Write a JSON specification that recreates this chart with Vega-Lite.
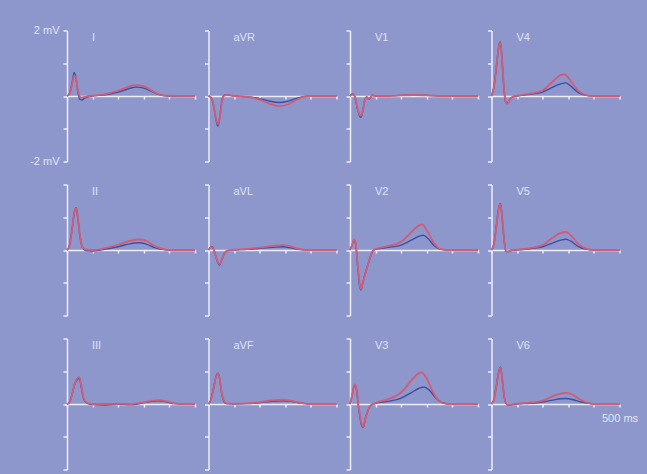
{
"$schema":"https://vega.github.io/schema/vega-lite/v6.json",
"background":"#8e97cb",
"autosize":"pad",
"padding":{"left":29,"top":24.5,"right":9.5,"bottom":4.5},
"data":{"values":[
{"l":"I","s":"b","t":0,"v":0},{"l":"I","s":"b","t":10,"v":0.08},{"l":"I","s":"b","t":20,"v":0.4},{"l":"I","s":"b","t":28,"v":0.72},{"l":"I","s":"b","t":35,"v":0.55},{"l":"I","s":"b","t":42,"v":0.15},{"l":"I","s":"b","t":50,"v":-0.1},{"l":"I","s":"b","t":58,"v":-0.12},{"l":"I","s":"b","t":70,"v":-0.06},{"l":"I","s":"b","t":85,"v":-0.02},{"l":"I","s":"b","t":100,"v":0},{"l":"I","s":"b","t":150,"v":0.04},{"l":"I","s":"b","t":200,"v":0.12},{"l":"I","s":"b","t":240,"v":0.22},{"l":"I","s":"b","t":270,"v":0.27},{"l":"I","s":"b","t":300,"v":0.24},{"l":"I","s":"b","t":330,"v":0.14},{"l":"I","s":"b","t":360,"v":0.04},{"l":"I","s":"b","t":390,"v":0},{"l":"I","s":"b","t":500,"v":0},
{"l":"I","s":"r","t":0,"v":0},{"l":"I","s":"r","t":10,"v":0.06},{"l":"I","s":"r","t":20,"v":0.35},{"l":"I","s":"r","t":28,"v":0.62},{"l":"I","s":"r","t":35,"v":0.55},{"l":"I","s":"r","t":42,"v":0.2},{"l":"I","s":"r","t":50,"v":-0.02},{"l":"I","s":"r","t":58,"v":-0.05},{"l":"I","s":"r","t":70,"v":-0.03},{"l":"I","s":"r","t":85,"v":0},{"l":"I","s":"r","t":100,"v":0.01},{"l":"I","s":"r","t":150,"v":0.06},{"l":"I","s":"r","t":200,"v":0.16},{"l":"I","s":"r","t":240,"v":0.28},{"l":"I","s":"r","t":270,"v":0.33},{"l":"I","s":"r","t":300,"v":0.3},{"l":"I","s":"r","t":330,"v":0.17},{"l":"I","s":"r","t":360,"v":0.05},{"l":"I","s":"r","t":390,"v":0.01},{"l":"I","s":"r","t":500,"v":0},
{"l":"aVR","s":"b","t":0,"v":0},{"l":"aVR","s":"b","t":10,"v":-0.05},{"l":"aVR","s":"b","t":20,"v":-0.3},{"l":"aVR","s":"b","t":30,"v":-0.75},{"l":"aVR","s":"b","t":37,"v":-0.92},{"l":"aVR","s":"b","t":45,"v":-0.6},{"l":"aVR","s":"b","t":52,"v":-0.15},{"l":"aVR","s":"b","t":60,"v":0.02},{"l":"aVR","s":"b","t":70,"v":0.04},{"l":"aVR","s":"b","t":85,"v":0.02},{"l":"aVR","s":"b","t":100,"v":0},{"l":"aVR","s":"b","t":150,"v":-0.02},{"l":"aVR","s":"b","t":200,"v":-0.08},{"l":"aVR","s":"b","t":240,"v":-0.16},{"l":"aVR","s":"b","t":275,"v":-0.2},{"l":"aVR","s":"b","t":310,"v":-0.16},{"l":"aVR","s":"b","t":340,"v":-0.08},{"l":"aVR","s":"b","t":370,"v":-0.02},{"l":"aVR","s":"b","t":400,"v":0},{"l":"aVR","s":"b","t":500,"v":0},
{"l":"aVR","s":"r","t":0,"v":0},{"l":"aVR","s":"r","t":10,"v":-0.04},{"l":"aVR","s":"r","t":20,"v":-0.28},{"l":"aVR","s":"r","t":30,"v":-0.7},{"l":"aVR","s":"r","t":37,"v":-0.86},{"l":"aVR","s":"r","t":45,"v":-0.62},{"l":"aVR","s":"r","t":52,"v":-0.2},{"l":"aVR","s":"r","t":60,"v":0},{"l":"aVR","s":"r","t":70,"v":0.03},{"l":"aVR","s":"r","t":85,"v":0.02},{"l":"aVR","s":"r","t":100,"v":0},{"l":"aVR","s":"r","t":150,"v":-0.03},{"l":"aVR","s":"r","t":200,"v":-0.11},{"l":"aVR","s":"r","t":240,"v":-0.24},{"l":"aVR","s":"r","t":275,"v":-0.31},{"l":"aVR","s":"r","t":310,"v":-0.26},{"l":"aVR","s":"r","t":340,"v":-0.13},{"l":"aVR","s":"r","t":370,"v":-0.03},{"l":"aVR","s":"r","t":400,"v":0},{"l":"aVR","s":"r","t":500,"v":0},
{"l":"V1","s":"b","t":0,"v":0},{"l":"V1","s":"b","t":10,"v":0.06},{"l":"V1","s":"b","t":18,"v":0},{"l":"V1","s":"b","t":28,"v":-0.35},{"l":"V1","s":"b","t":38,"v":-0.62},{"l":"V1","s":"b","t":43,"v":-0.65},{"l":"V1","s":"b","t":50,"v":-0.45},{"l":"V1","s":"b","t":58,"v":-0.12},{"l":"V1","s":"b","t":65,"v":-0.04},{"l":"V1","s":"b","t":72,"v":-0.09},{"l":"V1","s":"b","t":80,"v":-0.06},{"l":"V1","s":"b","t":88,"v":0.03},{"l":"V1","s":"b","t":95,"v":0},{"l":"V1","s":"b","t":150,"v":0},{"l":"V1","s":"b","t":200,"v":0.02},{"l":"V1","s":"b","t":250,"v":0.03},{"l":"V1","s":"b","t":300,"v":0.02},{"l":"V1","s":"b","t":350,"v":0},{"l":"V1","s":"b","t":500,"v":0},
{"l":"V1","s":"r","t":0,"v":0},{"l":"V1","s":"r","t":10,"v":0.05},{"l":"V1","s":"r","t":18,"v":0},{"l":"V1","s":"r","t":28,"v":-0.32},{"l":"V1","s":"r","t":38,"v":-0.58},{"l":"V1","s":"r","t":43,"v":-0.6},{"l":"V1","s":"r","t":50,"v":-0.45},{"l":"V1","s":"r","t":58,"v":-0.14},{"l":"V1","s":"r","t":65,"v":-0.03},{"l":"V1","s":"r","t":72,"v":-0.08},{"l":"V1","s":"r","t":80,"v":-0.05},{"l":"V1","s":"r","t":88,"v":0.04},{"l":"V1","s":"r","t":95,"v":0},{"l":"V1","s":"r","t":150,"v":0},{"l":"V1","s":"r","t":200,"v":0.02},{"l":"V1","s":"r","t":250,"v":0.03},{"l":"V1","s":"r","t":300,"v":0.02},{"l":"V1","s":"r","t":350,"v":0},{"l":"V1","s":"r","t":500,"v":0},
{"l":"V4","s":"b","t":0,"v":0},{"l":"V4","s":"b","t":10,"v":0.3},{"l":"V4","s":"b","t":20,"v":0.95},{"l":"V4","s":"b","t":30,"v":1.58},{"l":"V4","s":"b","t":35,"v":1.65},{"l":"V4","s":"b","t":42,"v":1.0},{"l":"V4","s":"b","t":48,"v":0.3},{"l":"V4","s":"b","t":55,"v":-0.18},{"l":"V4","s":"b","t":62,"v":-0.22},{"l":"V4","s":"b","t":72,"v":-0.1},{"l":"V4","s":"b","t":85,"v":-0.02},{"l":"V4","s":"b","t":100,"v":0},{"l":"V4","s":"b","t":150,"v":0.05},{"l":"V4","s":"b","t":200,"v":0.12},{"l":"V4","s":"b","t":240,"v":0.27},{"l":"V4","s":"b","t":270,"v":0.37},{"l":"V4","s":"b","t":290,"v":0.4},{"l":"V4","s":"b","t":310,"v":0.3},{"l":"V4","s":"b","t":340,"v":0.1},{"l":"V4","s":"b","t":370,"v":0.02},{"l":"V4","s":"b","t":400,"v":0},{"l":"V4","s":"b","t":500,"v":0},
{"l":"V4","s":"r","t":0,"v":0},{"l":"V4","s":"r","t":10,"v":0.3},{"l":"V4","s":"r","t":20,"v":0.95},{"l":"V4","s":"r","t":30,"v":1.55},{"l":"V4","s":"r","t":35,"v":1.62},{"l":"V4","s":"r","t":42,"v":1.02},{"l":"V4","s":"r","t":48,"v":0.32},{"l":"V4","s":"r","t":55,"v":-0.18},{"l":"V4","s":"r","t":62,"v":-0.24},{"l":"V4","s":"r","t":72,"v":-0.1},{"l":"V4","s":"r","t":85,"v":-0.01},{"l":"V4","s":"r","t":100,"v":0.01},{"l":"V4","s":"r","t":150,"v":0.07},{"l":"V4","s":"r","t":200,"v":0.17},{"l":"V4","s":"r","t":240,"v":0.45},{"l":"V4","s":"r","t":270,"v":0.64},{"l":"V4","s":"r","t":285,"v":0.66},{"l":"V4","s":"r","t":310,"v":0.45},{"l":"V4","s":"r","t":340,"v":0.15},{"l":"V4","s":"r","t":370,"v":0.03},{"l":"V4","s":"r","t":400,"v":0},{"l":"V4","s":"r","t":500,"v":0},
{"l":"II","s":"b","t":0,"v":0},{"l":"II","s":"b","t":10,"v":0.15},{"l":"II","s":"b","t":20,"v":0.65},{"l":"II","s":"b","t":30,"v":1.2},{"l":"II","s":"b","t":36,"v":1.29},{"l":"II","s":"b","t":42,"v":1.0},{"l":"II","s":"b","t":50,"v":0.45},{"l":"II","s":"b","t":58,"v":0.12},{"l":"II","s":"b","t":65,"v":0.02},{"l":"II","s":"b","t":75,"v":-0.02},{"l":"II","s":"b","t":100,"v":-0.03},{"l":"II","s":"b","t":130,"v":0},{"l":"II","s":"b","t":160,"v":0.04},{"l":"II","s":"b","t":200,"v":0.1},{"l":"II","s":"b","t":240,"v":0.18},{"l":"II","s":"b","t":280,"v":0.22},{"l":"II","s":"b","t":310,"v":0.18},{"l":"II","s":"b","t":340,"v":0.08},{"l":"II","s":"b","t":370,"v":0.02},{"l":"II","s":"b","t":400,"v":0},{"l":"II","s":"b","t":500,"v":0},
{"l":"II","s":"r","t":0,"v":0},{"l":"II","s":"r","t":10,"v":0.14},{"l":"II","s":"r","t":20,"v":0.62},{"l":"II","s":"r","t":30,"v":1.18},{"l":"II","s":"r","t":36,"v":1.27},{"l":"II","s":"r","t":42,"v":1.02},{"l":"II","s":"r","t":50,"v":0.48},{"l":"II","s":"r","t":58,"v":0.14},{"l":"II","s":"r","t":65,"v":0.04},{"l":"II","s":"r","t":75,"v":0.01},{"l":"II","s":"r","t":100,"v":0},{"l":"II","s":"r","t":130,"v":0.02},{"l":"II","s":"r","t":160,"v":0.08},{"l":"II","s":"r","t":200,"v":0.16},{"l":"II","s":"r","t":240,"v":0.27},{"l":"II","s":"r","t":280,"v":0.32},{"l":"II","s":"r","t":310,"v":0.28},{"l":"II","s":"r","t":340,"v":0.13},{"l":"II","s":"r","t":370,"v":0.04},{"l":"II","s":"r","t":400,"v":0},{"l":"II","s":"r","t":500,"v":0},
{"l":"aVL","s":"b","t":0,"v":0},{"l":"aVL","s":"b","t":8,"v":0.08},{"l":"aVL","s":"b","t":15,"v":0.1},{"l":"aVL","s":"b","t":25,"v":-0.1},{"l":"aVL","s":"b","t":35,"v":-0.36},{"l":"aVL","s":"b","t":43,"v":-0.46},{"l":"aVL","s":"b","t":52,"v":-0.3},{"l":"aVL","s":"b","t":62,"v":-0.1},{"l":"aVL","s":"b","t":75,"v":-0.02},{"l":"aVL","s":"b","t":100,"v":0},{"l":"aVL","s":"b","t":150,"v":0.02},{"l":"aVL","s":"b","t":200,"v":0.05},{"l":"aVL","s":"b","t":250,"v":0.08},{"l":"aVL","s":"b","t":290,"v":0.1},{"l":"aVL","s":"b","t":320,"v":0.07},{"l":"aVL","s":"b","t":350,"v":0.02},{"l":"aVL","s":"b","t":380,"v":0},{"l":"aVL","s":"b","t":500,"v":0},
{"l":"aVL","s":"r","t":0,"v":0},{"l":"aVL","s":"r","t":8,"v":0.07},{"l":"aVL","s":"r","t":15,"v":0.09},{"l":"aVL","s":"r","t":25,"v":-0.1},{"l":"aVL","s":"r","t":35,"v":-0.34},{"l":"aVL","s":"r","t":43,"v":-0.44},{"l":"aVL","s":"r","t":52,"v":-0.3},{"l":"aVL","s":"r","t":62,"v":-0.1},{"l":"aVL","s":"r","t":75,"v":-0.02},{"l":"aVL","s":"r","t":100,"v":0.01},{"l":"aVL","s":"r","t":150,"v":0.03},{"l":"aVL","s":"r","t":200,"v":0.07},{"l":"aVL","s":"r","t":250,"v":0.12},{"l":"aVL","s":"r","t":290,"v":0.15},{"l":"aVL","s":"r","t":320,"v":0.11},{"l":"aVL","s":"r","t":350,"v":0.04},{"l":"aVL","s":"r","t":380,"v":0},{"l":"aVL","s":"r","t":500,"v":0},
{"l":"V2","s":"b","t":0,"v":0},{"l":"V2","s":"b","t":8,"v":0.15},{"l":"V2","s":"b","t":16,"v":0.3},{"l":"V2","s":"b","t":22,"v":0.2},{"l":"V2","s":"b","t":30,"v":-0.5},{"l":"V2","s":"b","t":38,"v":-1.1},{"l":"V2","s":"b","t":43,"v":-1.22},{"l":"V2","s":"b","t":50,"v":-1.0},{"l":"V2","s":"b","t":60,"v":-0.7},{"l":"V2","s":"b","t":70,"v":-0.45},{"l":"V2","s":"b","t":80,"v":-0.2},{"l":"V2","s":"b","t":90,"v":-0.02},{"l":"V2","s":"b","t":100,"v":0.02},{"l":"V2","s":"b","t":150,"v":0.08},{"l":"V2","s":"b","t":200,"v":0.15},{"l":"V2","s":"b","t":240,"v":0.3},{"l":"V2","s":"b","t":270,"v":0.42},{"l":"V2","s":"b","t":287,"v":0.45},{"l":"V2","s":"b","t":305,"v":0.35},{"l":"V2","s":"b","t":330,"v":0.12},{"l":"V2","s":"b","t":355,"v":0.02},{"l":"V2","s":"b","t":380,"v":0},{"l":"V2","s":"b","t":500,"v":0},
{"l":"V2","s":"r","t":0,"v":0},{"l":"V2","s":"r","t":8,"v":0.15},{"l":"V2","s":"r","t":16,"v":0.32},{"l":"V2","s":"r","t":22,"v":0.22},{"l":"V2","s":"r","t":30,"v":-0.45},{"l":"V2","s":"r","t":38,"v":-1.05},{"l":"V2","s":"r","t":43,"v":-1.2},{"l":"V2","s":"r","t":50,"v":-1.0},{"l":"V2","s":"r","t":60,"v":-0.72},{"l":"V2","s":"r","t":70,"v":-0.45},{"l":"V2","s":"r","t":80,"v":-0.2},{"l":"V2","s":"r","t":90,"v":-0.02},{"l":"V2","s":"r","t":100,"v":0.03},{"l":"V2","s":"r","t":150,"v":0.12},{"l":"V2","s":"r","t":200,"v":0.25},{"l":"V2","s":"r","t":240,"v":0.55},{"l":"V2","s":"r","t":270,"v":0.75},{"l":"V2","s":"r","t":282,"v":0.78},{"l":"V2","s":"r","t":300,"v":0.6},{"l":"V2","s":"r","t":325,"v":0.25},{"l":"V2","s":"r","t":350,"v":0.04},{"l":"V2","s":"r","t":380,"v":0},{"l":"V2","s":"r","t":500,"v":0},
{"l":"V5","s":"b","t":0,"v":0},{"l":"V5","s":"b","t":10,"v":0.2},{"l":"V5","s":"b","t":20,"v":0.8},{"l":"V5","s":"b","t":30,"v":1.35},{"l":"V5","s":"b","t":35,"v":1.42},{"l":"V5","s":"b","t":42,"v":0.95},{"l":"V5","s":"b","t":50,"v":0.25},{"l":"V5","s":"b","t":57,"v":-0.05},{"l":"V5","s":"b","t":65,"v":-0.05},{"l":"V5","s":"b","t":80,"v":-0.01},{"l":"V5","s":"b","t":100,"v":0},{"l":"V5","s":"b","t":150,"v":0.04},{"l":"V5","s":"b","t":200,"v":0.1},{"l":"V5","s":"b","t":240,"v":0.22},{"l":"V5","s":"b","t":270,"v":0.3},{"l":"V5","s":"b","t":290,"v":0.33},{"l":"V5","s":"b","t":310,"v":0.27},{"l":"V5","s":"b","t":340,"v":0.1},{"l":"V5","s":"b","t":370,"v":0.02},{"l":"V5","s":"b","t":400,"v":0},{"l":"V5","s":"b","t":500,"v":0},
{"l":"V5","s":"r","t":0,"v":0},{"l":"V5","s":"r","t":10,"v":0.2},{"l":"V5","s":"r","t":20,"v":0.78},{"l":"V5","s":"r","t":30,"v":1.33},{"l":"V5","s":"r","t":35,"v":1.4},{"l":"V5","s":"r","t":42,"v":0.96},{"l":"V5","s":"r","t":50,"v":0.27},{"l":"V5","s":"r","t":57,"v":-0.03},{"l":"V5","s":"r","t":65,"v":-0.04},{"l":"V5","s":"r","t":80,"v":0},{"l":"V5","s":"r","t":100,"v":0.01},{"l":"V5","s":"r","t":150,"v":0.06},{"l":"V5","s":"r","t":200,"v":0.15},{"l":"V5","s":"r","t":240,"v":0.38},{"l":"V5","s":"r","t":270,"v":0.52},{"l":"V5","s":"r","t":290,"v":0.55},{"l":"V5","s":"r","t":310,"v":0.45},{"l":"V5","s":"r","t":340,"v":0.18},{"l":"V5","s":"r","t":370,"v":0.04},{"l":"V5","s":"r","t":400,"v":0},{"l":"V5","s":"r","t":500,"v":0},
{"l":"III","s":"b","t":0,"v":0},{"l":"III","s":"b","t":10,"v":0.05},{"l":"III","s":"b","t":20,"v":0.3},{"l":"III","s":"b","t":30,"v":0.6},{"l":"III","s":"b","t":40,"v":0.75},{"l":"III","s":"b","t":48,"v":0.78},{"l":"III","s":"b","t":55,"v":0.55},{"l":"III","s":"b","t":62,"v":0.25},{"l":"III","s":"b","t":70,"v":0.08},{"l":"III","s":"b","t":80,"v":0.02},{"l":"III","s":"b","t":100,"v":-0.02},{"l":"III","s":"b","t":150,"v":-0.03},{"l":"III","s":"b","t":200,"v":0},{"l":"III","s":"b","t":250,"v":-0.02},{"l":"III","s":"b","t":290,"v":0.02},{"l":"III","s":"b","t":330,"v":0.08},{"l":"III","s":"b","t":355,"v":0.1},{"l":"III","s":"b","t":390,"v":0.06},{"l":"III","s":"b","t":420,"v":0.01},{"l":"III","s":"b","t":450,"v":0},{"l":"III","s":"b","t":500,"v":0},
{"l":"III","s":"r","t":0,"v":0},{"l":"III","s":"r","t":10,"v":0.05},{"l":"III","s":"r","t":20,"v":0.3},{"l":"III","s":"r","t":30,"v":0.62},{"l":"III","s":"r","t":40,"v":0.78},{"l":"III","s":"r","t":48,"v":0.82},{"l":"III","s":"r","t":55,"v":0.6},{"l":"III","s":"r","t":62,"v":0.28},{"l":"III","s":"r","t":70,"v":0.1},{"l":"III","s":"r","t":80,"v":0.03},{"l":"III","s":"r","t":100,"v":0},{"l":"III","s":"r","t":150,"v":0},{"l":"III","s":"r","t":200,"v":0.01},{"l":"III","s":"r","t":250,"v":0},{"l":"III","s":"r","t":290,"v":0.04},{"l":"III","s":"r","t":330,"v":0.1},{"l":"III","s":"r","t":355,"v":0.12},{"l":"III","s":"r","t":390,"v":0.08},{"l":"III","s":"r","t":420,"v":0.02},{"l":"III","s":"r","t":450,"v":0},{"l":"III","s":"r","t":500,"v":0},
{"l":"aVF","s":"b","t":0,"v":0},{"l":"aVF","s":"b","t":10,"v":0.15},{"l":"aVF","s":"b","t":20,"v":0.5},{"l":"aVF","s":"b","t":30,"v":0.85},{"l":"aVF","s":"b","t":38,"v":0.94},{"l":"aVF","s":"b","t":45,"v":0.7},{"l":"aVF","s":"b","t":52,"v":0.3},{"l":"aVF","s":"b","t":60,"v":0.08},{"l":"aVF","s":"b","t":70,"v":0.01},{"l":"aVF","s":"b","t":100,"v":0},{"l":"aVF","s":"b","t":150,"v":0.01},{"l":"aVF","s":"b","t":200,"v":0.04},{"l":"aVF","s":"b","t":250,"v":0.08},{"l":"aVF","s":"b","t":290,"v":0.1},{"l":"aVF","s":"b","t":320,"v":0.08},{"l":"aVF","s":"b","t":350,"v":0.04},{"l":"aVF","s":"b","t":380,"v":0.01},{"l":"aVF","s":"b","t":400,"v":0},{"l":"aVF","s":"b","t":500,"v":0},
{"l":"aVF","s":"r","t":0,"v":0},{"l":"aVF","s":"r","t":10,"v":0.14},{"l":"aVF","s":"r","t":20,"v":0.48},{"l":"aVF","s":"r","t":30,"v":0.84},{"l":"aVF","s":"r","t":38,"v":0.93},{"l":"aVF","s":"r","t":45,"v":0.72},{"l":"aVF","s":"r","t":52,"v":0.32},{"l":"aVF","s":"r","t":60,"v":0.1},{"l":"aVF","s":"r","t":70,"v":0.02},{"l":"aVF","s":"r","t":100,"v":0.01},{"l":"aVF","s":"r","t":150,"v":0.02},{"l":"aVF","s":"r","t":200,"v":0.06},{"l":"aVF","s":"r","t":250,"v":0.11},{"l":"aVF","s":"r","t":290,"v":0.13},{"l":"aVF","s":"r","t":320,"v":0.1},{"l":"aVF","s":"r","t":350,"v":0.05},{"l":"aVF","s":"r","t":380,"v":0.01},{"l":"aVF","s":"r","t":400,"v":0},{"l":"aVF","s":"r","t":500,"v":0},
{"l":"V3","s":"b","t":0,"v":0},{"l":"V3","s":"b","t":8,"v":0.25},{"l":"V3","s":"b","t":18,"v":0.6},{"l":"V3","s":"b","t":25,"v":0.45},{"l":"V3","s":"b","t":35,"v":-0.2},{"l":"V3","s":"b","t":45,"v":-0.65},{"l":"V3","s":"b","t":52,"v":-0.72},{"l":"V3","s":"b","t":60,"v":-0.45},{"l":"V3","s":"b","t":70,"v":-0.2},{"l":"V3","s":"b","t":80,"v":-0.05},{"l":"V3","s":"b","t":92,"v":0},{"l":"V3","s":"b","t":100,"v":0.02},{"l":"V3","s":"b","t":150,"v":0.08},{"l":"V3","s":"b","t":200,"v":0.18},{"l":"V3","s":"b","t":240,"v":0.35},{"l":"V3","s":"b","t":270,"v":0.48},{"l":"V3","s":"b","t":290,"v":0.52},{"l":"V3","s":"b","t":310,"v":0.42},{"l":"V3","s":"b","t":335,"v":0.18},{"l":"V3","s":"b","t":360,"v":0.04},{"l":"V3","s":"b","t":390,"v":0},{"l":"V3","s":"b","t":500,"v":0},
{"l":"V3","s":"r","t":0,"v":0},{"l":"V3","s":"r","t":8,"v":0.25},{"l":"V3","s":"r","t":18,"v":0.6},{"l":"V3","s":"r","t":25,"v":0.48},{"l":"V3","s":"r","t":35,"v":-0.15},{"l":"V3","s":"r","t":45,"v":-0.6},{"l":"V3","s":"r","t":52,"v":-0.7},{"l":"V3","s":"r","t":60,"v":-0.45},{"l":"V3","s":"r","t":70,"v":-0.2},{"l":"V3","s":"r","t":80,"v":-0.05},{"l":"V3","s":"r","t":92,"v":0},{"l":"V3","s":"r","t":100,"v":0.03},{"l":"V3","s":"r","t":150,"v":0.15},{"l":"V3","s":"r","t":200,"v":0.35},{"l":"V3","s":"r","t":240,"v":0.72},{"l":"V3","s":"r","t":265,"v":0.92},{"l":"V3","s":"r","t":278,"v":0.97},{"l":"V3","s":"r","t":300,"v":0.78},{"l":"V3","s":"r","t":325,"v":0.35},{"l":"V3","s":"r","t":350,"v":0.08},{"l":"V3","s":"r","t":380,"v":0},{"l":"V3","s":"r","t":500,"v":0},
{"l":"V6","s":"b","t":0,"v":0},{"l":"V6","s":"b","t":10,"v":0.15},{"l":"V6","s":"b","t":20,"v":0.6},{"l":"V6","s":"b","t":30,"v":1.05},{"l":"V6","s":"b","t":35,"v":1.13},{"l":"V6","s":"b","t":42,"v":0.75},{"l":"V6","s":"b","t":50,"v":0.2},{"l":"V6","s":"b","t":56,"v":0.02},{"l":"V6","s":"b","t":65,"v":-0.03},{"l":"V6","s":"b","t":80,"v":-0.02},{"l":"V6","s":"b","t":100,"v":0},{"l":"V6","s":"b","t":150,"v":0.02},{"l":"V6","s":"b","t":200,"v":0.06},{"l":"V6","s":"b","t":240,"v":0.12},{"l":"V6","s":"b","t":270,"v":0.16},{"l":"V6","s":"b","t":290,"v":0.17},{"l":"V6","s":"b","t":320,"v":0.13},{"l":"V6","s":"b","t":350,"v":0.06},{"l":"V6","s":"b","t":380,"v":0.02},{"l":"V6","s":"b","t":400,"v":0},{"l":"V6","s":"b","t":500,"v":0},
{"l":"V6","s":"r","t":0,"v":0},{"l":"V6","s":"r","t":10,"v":0.15},{"l":"V6","s":"r","t":20,"v":0.58},{"l":"V6","s":"r","t":30,"v":1.04},{"l":"V6","s":"r","t":35,"v":1.12},{"l":"V6","s":"r","t":42,"v":0.76},{"l":"V6","s":"r","t":50,"v":0.22},{"l":"V6","s":"r","t":56,"v":0.03},{"l":"V6","s":"r","t":65,"v":-0.02},{"l":"V6","s":"r","t":80,"v":-0.01},{"l":"V6","s":"r","t":100,"v":0.01},{"l":"V6","s":"r","t":150,"v":0.04},{"l":"V6","s":"r","t":200,"v":0.1},{"l":"V6","s":"r","t":240,"v":0.24},{"l":"V6","s":"r","t":270,"v":0.32},{"l":"V6","s":"r","t":290,"v":0.34},{"l":"V6","s":"r","t":320,"v":0.27},{"l":"V6","s":"r","t":350,"v":0.12},{"l":"V6","s":"r","t":380,"v":0.03},{"l":"V6","s":"r","t":400,"v":0},{"l":"V6","s":"r","t":500,"v":0}
]},
"columns":4,
"spacing":{"row":23,"column":13.5},
"bounds":"flush",
"concat":[
{"title":{"text":"I","dy":22},"width":128,"height":131,"transform":[{"filter":"datum.l=='I'"}],"encoding":{"x":{"field":"t","type":"quantitative","scale":{"domain":[0,500]},"axis":{"title":null,"offset":-65.5,"values":[0,100,200,300,400,500],"labels":false,"tickSize":3}},"y":{"field":"v","type":"quantitative","scale":{"domain":[-2,2]},"axis":{"title":null,"values":[-2,-1,0,1,2],"tickSize":4,"labelPadding":4,"labelExpr":"datum.value==2?'2 mV':datum.value==-2?'-2 mV':''"}}},"layer":[{"transform":[{"filter":"datum.s=='b'"}],"mark":{"type":"line","color":"#3c4fa6","strokeWidth":1.4}},{"transform":[{"filter":"datum.s=='r'"}],"mark":{"type":"line","color":"#d05c77","strokeWidth":1.8}}]},
{"title":"aVR","width":128,"height":131,"transform":[{"filter":"datum.l=='aVR'"}],"encoding":{"x":{"field":"t","type":"quantitative","scale":{"domain":[0,500]},"axis":{"title":null,"offset":-65.5,"values":[0,100,200,300,400,500],"labels":false,"tickSize":3}},"y":{"field":"v","type":"quantitative","scale":{"domain":[-2,2]},"axis":{"title":null,"values":[-2,-1,0,1,2],"labels":false,"tickSize":4}}},"layer":[{"transform":[{"filter":"datum.s=='b'"}],"mark":{"type":"line","color":"#3c4fa6","strokeWidth":1.4}},{"transform":[{"filter":"datum.s=='r'"}],"mark":{"type":"line","color":"#d05c77","strokeWidth":1.8}}]},
{"title":"V1","width":128,"height":131,"transform":[{"filter":"datum.l=='V1'"}],"encoding":{"x":{"field":"t","type":"quantitative","scale":{"domain":[0,500]},"axis":{"title":null,"offset":-65.5,"values":[0,100,200,300,400,500],"labels":false,"tickSize":3}},"y":{"field":"v","type":"quantitative","scale":{"domain":[-2,2]},"axis":{"title":null,"values":[-2,-1,0,1,2],"labels":false,"tickSize":4}}},"layer":[{"transform":[{"filter":"datum.s=='b'"}],"mark":{"type":"line","color":"#3c4fa6","strokeWidth":1.4}},{"transform":[{"filter":"datum.s=='r'"}],"mark":{"type":"line","color":"#d05c77","strokeWidth":1.8}}]},
{"title":"V4","width":128,"height":131,"transform":[{"filter":"datum.l=='V4'"}],"encoding":{"x":{"field":"t","type":"quantitative","scale":{"domain":[0,500]},"axis":{"title":null,"offset":-65.5,"values":[0,100,200,300,400,500],"labels":false,"tickSize":3}},"y":{"field":"v","type":"quantitative","scale":{"domain":[-2,2]},"axis":{"title":null,"values":[-2,-1,0,1,2],"labels":false,"tickSize":4}}},"layer":[{"transform":[{"filter":"datum.s=='b'"}],"mark":{"type":"line","color":"#3c4fa6","strokeWidth":1.4}},{"transform":[{"filter":"datum.s=='r'"}],"mark":{"type":"line","color":"#d05c77","strokeWidth":1.8}}]},
{"title":"II","width":128,"height":131,"transform":[{"filter":"datum.l=='II'"}],"encoding":{"x":{"field":"t","type":"quantitative","scale":{"domain":[0,500]},"axis":{"title":null,"offset":-65.5,"values":[0,100,200,300,400,500],"labels":false,"tickSize":3}},"y":{"field":"v","type":"quantitative","scale":{"domain":[-2,2]},"axis":{"title":null,"values":[-2,-1,0,1,2],"labels":false,"tickSize":4}}},"layer":[{"transform":[{"filter":"datum.s=='b'"}],"mark":{"type":"line","color":"#3c4fa6","strokeWidth":1.4}},{"transform":[{"filter":"datum.s=='r'"}],"mark":{"type":"line","color":"#d05c77","strokeWidth":1.8}}]},
{"title":"aVL","width":128,"height":131,"transform":[{"filter":"datum.l=='aVL'"}],"encoding":{"x":{"field":"t","type":"quantitative","scale":{"domain":[0,500]},"axis":{"title":null,"offset":-65.5,"values":[0,100,200,300,400,500],"labels":false,"tickSize":3}},"y":{"field":"v","type":"quantitative","scale":{"domain":[-2,2]},"axis":{"title":null,"values":[-2,-1,0,1,2],"labels":false,"tickSize":4}}},"layer":[{"transform":[{"filter":"datum.s=='b'"}],"mark":{"type":"line","color":"#3c4fa6","strokeWidth":1.4}},{"transform":[{"filter":"datum.s=='r'"}],"mark":{"type":"line","color":"#d05c77","strokeWidth":1.8}}]},
{"title":"V2","width":128,"height":131,"transform":[{"filter":"datum.l=='V2'"}],"encoding":{"x":{"field":"t","type":"quantitative","scale":{"domain":[0,500]},"axis":{"title":null,"offset":-65.5,"values":[0,100,200,300,400,500],"labels":false,"tickSize":3}},"y":{"field":"v","type":"quantitative","scale":{"domain":[-2,2]},"axis":{"title":null,"values":[-2,-1,0,1,2],"labels":false,"tickSize":4}}},"layer":[{"transform":[{"filter":"datum.s=='b'"}],"mark":{"type":"line","color":"#3c4fa6","strokeWidth":1.4}},{"transform":[{"filter":"datum.s=='r'"}],"mark":{"type":"line","color":"#d05c77","strokeWidth":1.8}}]},
{"title":"V5","width":128,"height":131,"transform":[{"filter":"datum.l=='V5'"}],"encoding":{"x":{"field":"t","type":"quantitative","scale":{"domain":[0,500]},"axis":{"title":null,"offset":-65.5,"values":[0,100,200,300,400,500],"labels":false,"tickSize":3}},"y":{"field":"v","type":"quantitative","scale":{"domain":[-2,2]},"axis":{"title":null,"values":[-2,-1,0,1,2],"labels":false,"tickSize":4}}},"layer":[{"transform":[{"filter":"datum.s=='b'"}],"mark":{"type":"line","color":"#3c4fa6","strokeWidth":1.4}},{"transform":[{"filter":"datum.s=='r'"}],"mark":{"type":"line","color":"#d05c77","strokeWidth":1.8}}]},
{"title":"III","width":128,"height":131,"transform":[{"filter":"datum.l=='III'"}],"encoding":{"x":{"field":"t","type":"quantitative","scale":{"domain":[0,500]},"axis":{"title":null,"offset":-65.5,"values":[0,100,200,300,400,500],"labels":false,"tickSize":3}},"y":{"field":"v","type":"quantitative","scale":{"domain":[-2,2]},"axis":{"title":null,"values":[-2,-1,0,1,2],"labels":false,"tickSize":4}}},"layer":[{"transform":[{"filter":"datum.s=='b'"}],"mark":{"type":"line","color":"#3c4fa6","strokeWidth":1.4}},{"transform":[{"filter":"datum.s=='r'"}],"mark":{"type":"line","color":"#d05c77","strokeWidth":1.8}}]},
{"title":"aVF","width":128,"height":131,"transform":[{"filter":"datum.l=='aVF'"}],"encoding":{"x":{"field":"t","type":"quantitative","scale":{"domain":[0,500]},"axis":{"title":null,"offset":-65.5,"values":[0,100,200,300,400,500],"labels":false,"tickSize":3}},"y":{"field":"v","type":"quantitative","scale":{"domain":[-2,2]},"axis":{"title":null,"values":[-2,-1,0,1,2],"labels":false,"tickSize":4}}},"layer":[{"transform":[{"filter":"datum.s=='b'"}],"mark":{"type":"line","color":"#3c4fa6","strokeWidth":1.4}},{"transform":[{"filter":"datum.s=='r'"}],"mark":{"type":"line","color":"#d05c77","strokeWidth":1.8}}]},
{"title":"V3","width":128,"height":131,"transform":[{"filter":"datum.l=='V3'"}],"encoding":{"x":{"field":"t","type":"quantitative","scale":{"domain":[0,500]},"axis":{"title":null,"offset":-65.5,"values":[0,100,200,300,400,500],"labels":false,"tickSize":3}},"y":{"field":"v","type":"quantitative","scale":{"domain":[-2,2]},"axis":{"title":null,"values":[-2,-1,0,1,2],"labels":false,"tickSize":4}}},"layer":[{"transform":[{"filter":"datum.s=='b'"}],"mark":{"type":"line","color":"#3c4fa6","strokeWidth":1.4}},{"transform":[{"filter":"datum.s=='r'"}],"mark":{"type":"line","color":"#d05c77","strokeWidth":1.8}}]},
{"title":"V6","width":128,"height":131,"transform":[{"filter":"datum.l=='V6'"}],"encoding":{"x":{"field":"t","type":"quantitative","scale":{"domain":[0,500]},"axis":{"title":null,"offset":-65.5,"values":[0,100,200,300,400,500],"tickSize":3,"labelPadding":5,"labelExpr":"datum.value==500?'500 ms':''"}},"y":{"field":"v","type":"quantitative","scale":{"domain":[-2,2]},"axis":{"title":null,"values":[-2,-1,0,1,2],"labels":false,"tickSize":4}}},"layer":[{"transform":[{"filter":"datum.s=='b'"}],"mark":{"type":"line","color":"#3c4fa6","strokeWidth":1.4}},{"transform":[{"filter":"datum.s=='r'"}],"mark":{"type":"line","color":"#d05c77","strokeWidth":1.8}}]}
],
"config":{
"view":{"stroke":null},
"axis":{"domainColor":"#eceef8","tickColor":"#eceef8","domainWidth":1.5,"tickWidth":1.5,"grid":false,"labelColor":"#e2e5f4","labelFont":"Liberation Sans","labelFontSize":11,"labelFlush":false,"labelOverlap":false},
"title":{"anchor":"start","frame":"group","offset":0,"dx":25,"dy":17,"baseline":"middle","fontSize":11,"fontWeight":"normal","color":"#dfe2f3","font":"Liberation Sans"},
"line":{"interpolate":"monotone"}
}
}
